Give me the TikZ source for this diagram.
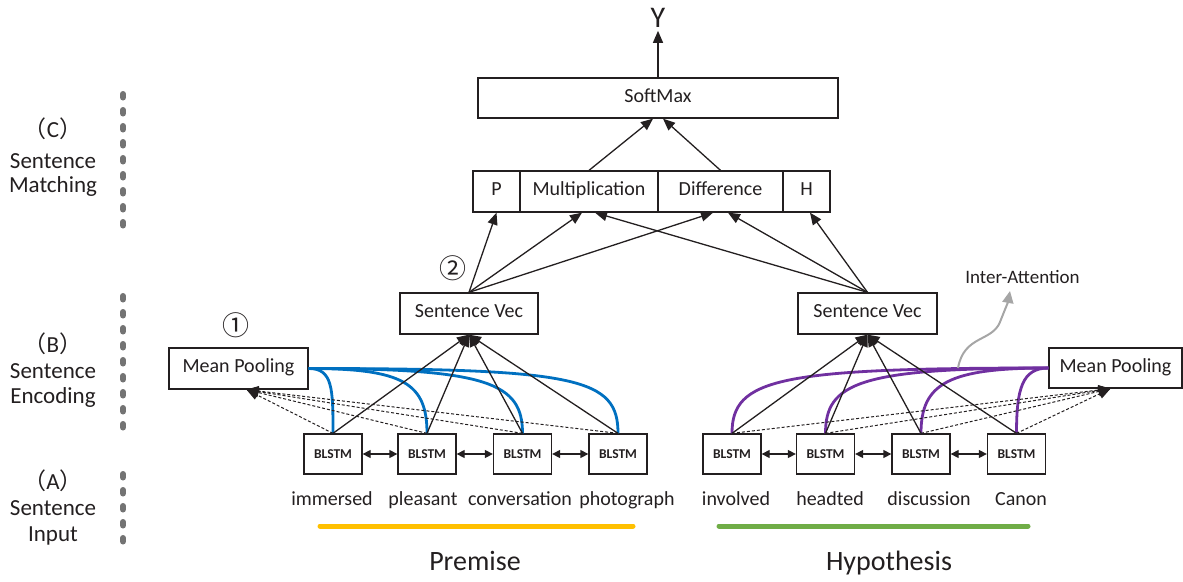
\documentclass[tikz,border=0pt]{standalone}
\usepackage{fontspec}
\setmainfont{Carlito}
\newfontfamily\cjkf{Noto Sans CJK SC}
\usetikzlibrary{arrows.meta}
\definecolor{tx}{HTML}{231F20}
\definecolor{blu}{HTML}{0070C0}
\definecolor{pur}{HTML}{7030A0}
\definecolor{ylw}{HTML}{FFC000}
\definecolor{grn}{HTML}{70AD47}
\definecolor{dgray}{HTML}{737373}
\definecolor{lgray}{HTML}{A6A6A6}
\newcommand\fsz[1]{\fontsize{#1}{#1}\selectfont}
\begin{document}
\begin{tikzpicture}[x=1pt,y=-1pt,
  every node/.style={text=tx},
  box/.style={draw=tx, line width=1.3pt, inner sep=0pt, font=\fsz{20}, text height=0.8em, text depth=0em},
  bl/.style={box, minimum width=58pt, minimum height=40pt, font=\fsz{13.5}\bfseries},
  arr/.style={draw=tx, line width=1.3pt, -{Triangle[length=12pt,width=10pt]}},
  darr/.style={draw=tx, line width=1.3pt, {Triangle[length=8pt,width=8pt]}-{Triangle[length=8pt,width=8pt]}},
  dsh/.style={draw=tx, line width=1pt, dash pattern=on 3pt off 2pt, -{Triangle[length=12pt,width=10pt]}},
  curv/.style={line width=2.8pt},
  lvl/.style={draw=dgray, line width=6pt, line cap=round, dash pattern=on 3.5pt off 12.5pt},
  lab/.style={font=\fsz{23}, anchor=base},
  word/.style={font=\fsz{20}, anchor=base},
  circ/.style={font=\cjkf\fsz{27}, inner sep=0pt}
]
\useasboundingbox (0,0) rectangle (1183,581);

% left level labels
\draw[lvl] (123,94) -- (123,226);
\draw[lvl] (123,296) -- (123,430);
\draw[lvl] (123,474) -- (123,542);
\node[lab] (lc1) at (53,137) {{\cjkf （}C{\cjkf ）}};
\node[lab] (lc2) at (53,168) {Sentence};
\node[lab] (lc3) at (53,192) {Matching};
\node[lab] (lb1) at (53,352) {{\cjkf （}B{\cjkf ）}};
\node[lab] (lb2) at (53,378) {Sentence};
\node[lab] (lb3) at (53,403) {Encoding};
\node[lab] (la1) at (53,489) {{\cjkf （}A{\cjkf ）}};
\node[lab] (la2) at (53,515) {Sentence};
\node[lab] (la3) at (53,541) {Input};

% top
\node[font=\fsz{30}, inner sep=3pt] (Y) at (658,18) {Y};
\node[box, minimum width=360pt, minimum height=40pt] (sm) at (658,98) {SoftMax};
\node[box, minimum width=47pt, minimum height=41pt] (P) at (496.5,191.5) {P};
\node[box, minimum width=138pt, minimum height=41pt] (mult) at (589,191.5) {Multiplication};
\node[box, minimum width=125pt, minimum height=41pt] (diff) at (720.5,191.5) {Difference};
\node[box, minimum width=47pt, minimum height=41pt] (H) at (806.5,191.5) {H};

\node[box, minimum width=138pt, minimum height=41pt] (svl) at (469,313.5) {Sentence Vec};
\node[box, minimum width=139pt, minimum height=41pt] (svr) at (867.5,313.5) {Sentence Vec};
\node[box, minimum width=139pt, minimum height=41pt] (mpl) at (238.5,368.5) {Mean Pooling};
\node[box, minimum width=133pt, minimum height=40pt] (mpr) at (1115.5,368) {Mean Pooling};

\node[circ] (c1) at (236,325) {①};
\node[circ] (c2) at (453,268) {②};

% BLSTM boxes
\node[bl] (b1) at (333,454) {BLSTM};
\node[bl] (b2) at (427,454) {BLSTM};
\node[bl] (b3) at (522.5,454) {BLSTM};
\node[bl] (b4) at (618,454) {BLSTM};
\node[bl] (r1) at (732,454) {BLSTM};
\node[bl] (r2) at (825.5,454) {BLSTM};
\node[bl] (r3) at (921,454) {BLSTM};
\node[bl] (r4) at (1016.5,454) {BLSTM};

% words
\node[word] (w1) at (332,505) {immersed};
\node[word] (w2) at (423,505) {pleasant};
\node[word] (w3) at (520,505) {conversation};
\node[word] (w4) at (627,505) {photograph};
\node[word] (w5) at (736,505) {involved};
\node[word] (w6) at (830,505) {headted};
\node[word] (w7) at (929,505) {discussion};
\node[word] (w8) at (1021,505) {Canon};

\coordinate (yl1) at (320,526);
\coordinate (yl2) at (633,526);
\coordinate (gl1) at (719,526);
\coordinate (gl2) at (1028,526);
\draw[ylw, line width=5pt, line cap=round] (yl1) -- (yl2);
\draw[grn, line width=5pt, line cap=round] (gl1) -- (gl2);
\node[font=\fsz{28}, anchor=base] (prem) at (475,570) {Premise};
\node[font=\fsz{28}, anchor=base] (hyp) at (889,570) {Hypothesis};

% curves
\draw[blu,curv] (mpl.east) .. controls +(24,0) and +(0,-45) .. (b1.north);
\draw[blu,curv] (mpl.east) .. controls +(95,0) and +(0,-50) .. (b2.north);
\draw[blu,curv] (mpl.east) .. controls +(180,0) and +(0,-50) .. (b3.north);
\draw[blu,curv] (mpl.east) .. controls +(270,0) and +(0,-55) .. (b4.north);
\draw[pur,curv] (mpr.west) .. controls +(-270,0) and +(0,-55) .. (r1.north);
\draw[pur,curv] (mpr.west) .. controls +(-190,0) and +(0,-50) .. (r2.north);
\draw[pur,curv] (mpr.west) .. controls +(-100,0) and +(0,-50) .. (r3.north);
\draw[pur,curv] (mpr.west) .. controls +(-26,0) and +(0,-45) .. (r4.north);

% inter-attention
\coordinate (iaS) at (958,368);
\coordinate (iaE) at (1010,291);
\draw[lgray, line width=2pt, -{Triangle[length=12pt,width=11pt]}] (iaS) .. controls (964,335) and (992,342) .. (1000,322) .. controls (1004,312) and (1008,302) .. (iaE);
\node[font=\fsz{19}] (ia) at (1022.5,277) {Inter-Attention};

% dashed
\foreach \b in {b1,b2,b3,b4} \draw[dsh] (\b.north) -- ([xshift=8pt]mpl.south);
\foreach \b in {r1,r2,r3,r4} \draw[dsh] (\b.north) -- ([xshift=-5pt]mpr.south);

% solid to sentence vec
\foreach \b in {b1,b2,b3,b4} \draw[arr] (\b.north) -- (svl.south);
\foreach \b in {r1,r2,r3,r4} \draw[arr] (\b.north) -- (svr.south);

% double arrows
\draw[darr] (b1.east) -- (b2.west);
\draw[darr] (b2.east) -- (b3.west);
\draw[darr] (b3.east) -- (b4.west);
\draw[darr] (r1.east) -- (r2.west);
\draw[darr] (r2.east) -- (r3.west);
\draw[darr] (r3.east) -- (r4.west);

% matching
\draw[arr] (svl.north) -- (P.south);
\draw[arr] (svl.north) -- ([xshift=-7pt]mult.south);
\draw[arr] (svl.north) -- ([xshift=-7.5pt]diff.south);
\draw[arr] (svr.north) -- ([xshift=3.5pt]H.south);
\draw[arr] (svr.north) -- ([xshift=7.5pt]diff.south);
\draw[arr] (svr.north) -- ([xshift=6pt]mult.south);
\draw[arr] (mult.north) -- ([xshift=-5pt]sm.south);
\draw[arr] (diff.north) -- ([xshift=5pt]sm.south);
\draw[arr] (sm.north) -- (Y.south);
\end{tikzpicture}
\end{document}
